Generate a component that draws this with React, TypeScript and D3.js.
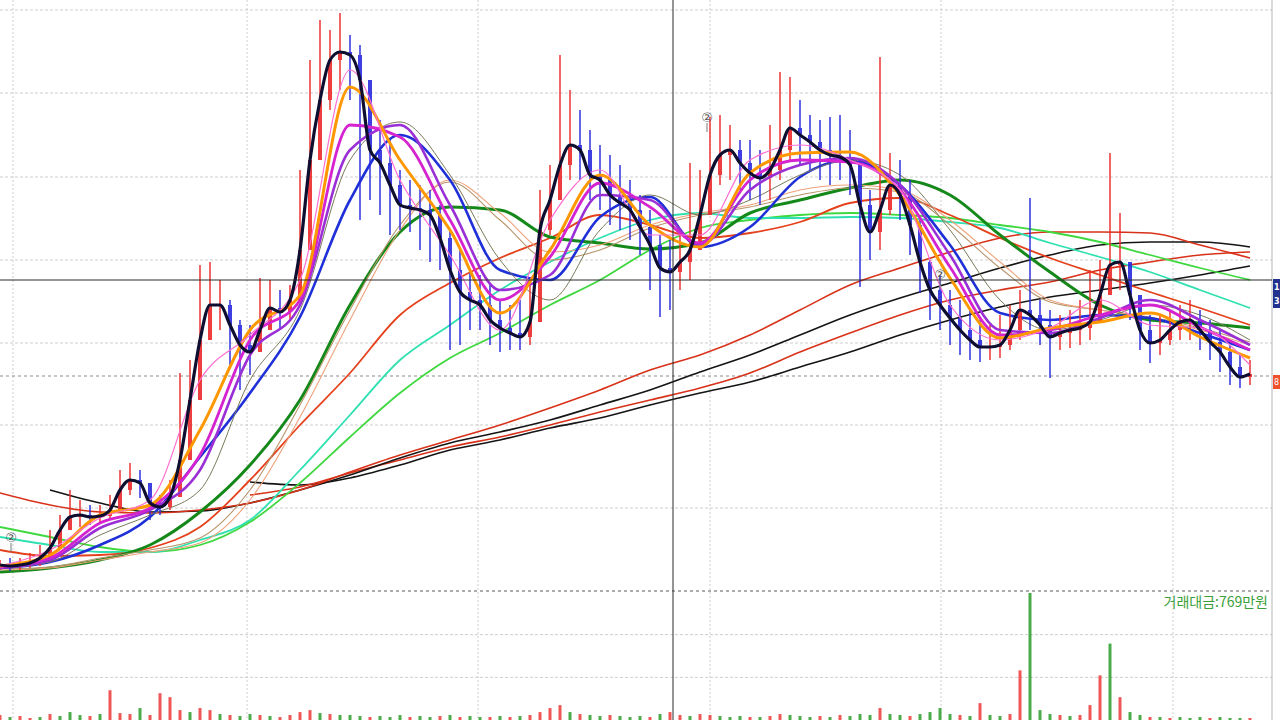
import React from 'react';
import * as d3 from 'd3';

// ---------- price candles (one per slot, price units) ----------
const closes = [
  35, 34, 35, 37, 42, 52, 70, 83, 85, 83,
  84, 90, 110, 120, 117, 97, 93, 103, 140, 200,
  260, 295, 295, 275, 255, 248, 270, 292, 288, 300,
  350, 440, 500, 540, 548, 545, 520, 450, 437, 415,
  395, 392, 390, 385, 362, 330, 308, 300, 295, 280,
  272, 267, 263, 278, 370, 400, 435, 455, 450, 425,
  420, 405, 397, 390, 373, 355, 332, 328, 338, 350,
  385, 425, 445, 450, 437, 427, 422, 430, 450, 472,
  465, 458, 450, 445, 443, 435, 395, 368, 390, 415,
  405, 375, 338, 310, 295, 282, 270, 260, 253, 253,
  255, 270, 290, 285, 275, 263, 267, 270, 272, 278,
  305, 335, 338, 305, 270, 257, 260, 270, 278, 280,
  270, 258, 248, 233, 223, 226,
];
const highs = [
  40, 42, 42, 47, 55, 70, 85, 110, 100, 95,
  95, 105, 130, 137, 130, 112, 105, 120, 227, 240,
  335, 338, 320, 300, 280, 275, 322, 320, 310, 315,
  430, 540, 580, 570, 587, 565, 555, 510, 480, 460,
  430, 420, 415, 410, 395, 370, 350, 330, 325, 315,
  300, 295, 300, 315, 410, 435, 545, 510, 490, 470,
  455, 445, 435, 420, 405, 390, 365, 360, 370, 437,
  430, 483, 485, 475, 460, 460, 450, 475, 528, 523,
  500, 485, 480, 483, 485, 470, 440, 410, 543, 447,
  440, 420, 380, 340, 325, 310, 300, 290, 280, 275,
  285, 295, 310, 402, 300, 290, 285, 290, 300, 330,
  340, 447, 387, 335, 300, 285, 285, 290, 295, 300,
  290, 280, 270, 255, 245, 240,
];
const lows = [
  30, 29, 30, 32, 34, 40, 55, 70, 73, 75,
  76, 80, 95, 105, 102, 80, 85, 90, 110, 160,
  230, 260, 270, 235, 210, 225, 250, 270, 270, 280,
  310, 400, 440, 490, 510, 500, 380, 400, 385, 365,
  370, 368, 350, 338, 330, 250, 255, 270, 270, 255,
  248, 250, 250, 255, 310, 365, 405, 420, 420, 400,
  390, 375, 370, 360, 345, 310, 283, 290, 310, 320,
  355, 390, 415, 420, 410, 400, 395, 400, 420, 440,
  435, 430, 420, 415, 420, 405, 313, 340, 350, 385,
  380, 345, 307, 280, 270, 255, 245, 240, 238, 240,
  242, 250, 260, 270, 255, 222, 250, 252, 255, 260,
  280, 310, 310, 280, 250, 237, 245, 255, 260, 260,
  250, 240, 228, 215, 212, 215,
];
const volumes = [
  5, 3, 4, 2, 3, 6, 4, 8, 5, 4,
  6, 30, 7, 6, 12, 5, 27, 23, 10, 8,
  12, 10, 6, 5, 4, 6, 5, 4, 3, 5,
  8, 10, 7, 6, 5, 5, 4, 3, 4, 3,
  5, 3, 4, 3, 4, 5, 3, 4, 3, 3,
  4, 3, 4, 5, 8, 12, 15, 8, 6, 5,
  4, 5, 4, 3, 4, 3, 6, 8, 5, 4,
  6, 5, 4, 3, 4, 3, 3, 4, 6, 5,
  4, 3, 4, 3, 5, 4, 6, 5, 12, 6,
  5, 4, 6, 8, 12, 6, 5, 4, 17, 5,
  4, 6, 50, 128, 10, 6, 5, 4, 5, 15,
  45, 77, 23, 8, 5, 3, 3, 2, 3, 2,
  3, 2, 3, 2, 2, 2,
];
const volumeSides =
  'rgrrgrgggr' + 'grrrgrrrrg' + 'rrgrggrgrr' + 'rrgrgggrgg' + 'grggrgrggr' +
  'grgrrrrgrg' + 'grgggrgrrg' + 'rrgggrgrrg' + 'ggrgrgggrg' + 'grggggrgrg' +
  'grrgggrgrr' + 'rgrggrgrgg' + 'grgggr';

// ---------- moving averages, sampled every 5 slots ----------
const maSlots = d3.range(0, 126, 5);
const maPink = [34, 50, 82, 100, 220, 265, 320, 530, 420, 345, 270, 380, 430, 365, 365, 440, 455, 440, 410, 295, 260, 272, 300, 275, 272, 235];
const maOrange = [34, 45, 85, 95, 170, 270, 305, 513, 440, 370, 287, 350, 425, 375, 353, 427, 447, 448, 405, 322, 262, 272, 278, 287, 263, 242];
const maMagenta = [33, 42, 77, 92, 145, 260, 300, 475, 463, 380, 300, 343, 417, 393, 357, 420, 440, 438, 410, 333, 265, 270, 285, 295, 273, 250];
const maPurple = [32, 40, 72, 90, 130, 245, 295, 450, 475, 395, 310, 325, 405, 400, 355, 410, 435, 442, 415, 345, 270, 267, 282, 300, 280, 255];
const maGray = [32, 38, 65, 85, 110, 220, 290, 440, 478, 425, 340, 300, 370, 405, 385, 400, 425, 440, 425, 370, 300, 270, 280, 295, 285, 260];
const maBlue = [32, 38, 55, 83, 143, 207, 283, 400, 465, 420, 330, 320, 383, 403, 353, 373, 423, 440, 415, 355, 287, 280, 285, 282, 267, 250];
const maTan1 = [30, 32, 40, 48, 57, 100, 183, 280, 370, 420, 387, 348, 355, 375, 387, 395, 410, 415, 410, 380, 338, 300, 290, 282, 270, 255];
const maTan2 = [31, 33, 42, 50, 62, 110, 195, 290, 375, 418, 380, 340, 350, 372, 385, 393, 405, 412, 408, 375, 332, 298, 290, 283, 272, 258];
const maDarkGreen = [28, 32, 40, 55, 88, 135, 200, 295, 368, 393, 390, 363, 357, 351, 357, 387, 400, 412, 420, 405, 365, 328, 295, 280, 277, 272];
const maRedMid = [50, 44, 45, 52, 73, 120, 175, 227, 285, 317, 342, 362, 385, 375, 362, 367, 378, 397, 402, 385, 362, 342, 325, 308, 292, 275];
const maTeal = [63, 55, 48, 48, 60, 80, 130, 185, 240, 275, 310, 338, 362, 380, 387, 382, 382, 383, 382, 378, 372, 357, 343, 328, 310, 292];
const maLightGreen = [73, 63, 53, 48, 55, 78, 117, 163, 207, 242, 267, 295, 320, 350, 372, 380, 385, 387, 385, 382, 375, 368, 358, 345, 332, 320];
const maLongRed1 = [107, 95, 88, 87, 90, 97, 110, 128, 145, 160, 175, 192, 210, 230, 245, 265, 290, 315, 332, 348, 362, 368, 368, 367, 355, 342];
const maLongBlack1 = [null, 110, 97, 88, 89, 97, 110, 125, 142, 157, 168, 180, 195, 210, 228, 245, 265, 285, 302, 317, 332, 345, 355, 358, 358, 353];
const maLongRed2 = [null, null, null, null, null, 105, 113, 127, 140, 153, 163, 175, 188, 200, 212, 227, 248, 267, 285, 300, 310, 318, 330, 338, 345, 348];
const maLongBlack2 = [null, null, null, null, null, 118, 115, 122, 135, 150, 160, 172, 182, 195, 207, 218, 233, 248, 265, 280, 293, 303, 310, 317, 325, 334];

// ---------- ticks / annotations ----------
const priceGridTicks = [92, 175, 257, 340, 423, 507, 590];
const timeGridTicks = [1.3, 24.7, 47.8, 71.0, 94.1, 117.3];
const volumeGridTicks = [43, 86];
const crossSlot = 67.3;
const crossPrice = 320;
const markers = [
  { slot: 1.1, price: 62 },
  { slot: 70.7, price: 482 },
  { slot: 94.0, price: 325 },
];
const volumeLabel = '거래대금:769만원';

const slowStyles = [
  { data: maLongBlack2, color: '#151515', w: 1.6 },
  { data: maLongRed2, color: '#d8321a', w: 1.6 },
  { data: maLongBlack1, color: '#151515', w: 1.6 },
  { data: maLongRed1, color: '#d8321a', w: 1.6 },
  { data: maLightGreen, color: '#3fd83f', w: 1.8 },
  { data: maTeal, color: '#2fe0b0', w: 1.8 },
  { data: maRedMid, color: '#e5411c', w: 1.8 },
  { data: maDarkGreen, color: '#15881a', w: 3 },
  { data: maTan2, color: '#b8946a', w: 1.1 },
  { data: maTan1, color: '#eea27a', w: 1.1 },
  { data: maBlue, color: '#1f30d8', w: 2.6 },
  { data: maGray, color: '#7a7a5c', w: 1 },
];
const fastStyles = [
  { data: maPurple, color: '#9b2fd6', w: 2.6 },
  { data: maMagenta, color: '#d523d0', w: 2.8 },
  { data: maOrange, color: '#ff9800', w: 3 },
  { data: maPink, color: '#ff6fd2', w: 1.2 },
];

export default function App() {
  const x = d3.scaleLinear().domain([0, 125]).range([0, 1250]);
  const y = d3.scaleLinear().domain([0, 600]).range([600, 0]);
  const vy = d3.scaleLinear().domain([0, 130]).range([720, 591]);

  const line = d3
    .line<[number, number | null]>()
    .defined((d) => d[1] != null)
    .x((d) => x(d[0]))
    .y((d) => y(d[1] as number))
    .curve(d3.curveMonotoneX);

  const maPath = (vals: (number | null)[]) =>
    line(vals.map((v, j) => [maSlots[j], v] as [number, number | null])) || '';
  const pricePath = line(closes.map((c, i) => [i, c] as [number, number])) || '';

  const lastClose = closes[closes.length - 1];
  const gridColor = '#cdcdcd';

  return (
    <div style={{ position: 'fixed', left: 0, top: 0, width: 1280, height: 720, background: '#fff' }}>
      <svg width={1280} height={720} style={{ display: 'block' }}>
        <rect x={0} y={0} width={1280} height={720} fill="#fff" />
        {/* grid */}
        {timeGridTicks.map((t, i) => (
          <line key={'vg' + i} x1={x(t)} x2={x(t)} y1={0} y2={720} stroke={gridColor} strokeDasharray="2,2" />
        ))}
        {priceGridTicks.map((p, i) => (
          <line key={'hg' + i} x1={0} x2={1272} y1={y(p)} y2={y(p)} stroke={gridColor} strokeDasharray="3,2" />
        ))}
        {volumeGridTicks.map((v, i) => (
          <line key={'vgl' + i} x1={0} x2={1272} y1={vy(v)} y2={vy(v)} stroke={gridColor} strokeDasharray="3,2" />
        ))}
        <line x1={0} x2={1272} y1={y(lastClose) + 2} y2={y(lastClose) + 2} stroke="#8a8a8a" strokeDasharray="3,3" />
        <line x1={0} x2={1272} y1={591} y2={591} stroke="#5a5a5a" strokeDasharray="3,3" />
        <line x1={1272} x2={1272} y1={0} y2={720} stroke="#b5b5b5" />

        {/* slow moving averages */}
        {slowStyles.map((s, i) => (
          <path key={'s' + i} d={maPath(s.data)} fill="none" stroke={s.color} strokeWidth={s.w} />
        ))}

        {/* candles */}
        {closes.map((c, i) => {
          const o = i === 0 ? c : closes[i - 1];
          const up = c >= o;
          const col = up ? '#ec2b2b' : '#2a2ade';
          const hi = Math.max(highs[i], o, c);
          const lo = Math.min(lows[i], o, c);
          return (
            <g key={'c' + i} opacity={0.9}>
              <line x1={x(i)} x2={x(i)} y1={y(hi)} y2={y(lo)} stroke={col} strokeWidth={1.6} />
              <rect
                x={x(i) - 2}
                width={4}
                y={y(Math.max(o, c))}
                height={Math.max(1, Math.abs(y(o) - y(c)))}
                fill={col}
              />
            </g>
          );
        })}

        {/* fast moving averages */}
        {fastStyles.map((s, i) => (
          <path key={'f' + i} d={maPath(s.data)} fill="none" stroke={s.color} strokeWidth={s.w} />
        ))}
        <path d={pricePath} fill="none" stroke="#0e0e30" strokeWidth={3.2} />

        {/* crosshair */}
        <line x1={0} x2={1272} y1={y(crossPrice)} y2={y(crossPrice)} stroke="#2a2a2a" strokeWidth={1} />
        <line x1={x(crossSlot)} x2={x(crossSlot)} y1={0} y2={720} stroke="#2a2a2a" strokeWidth={1} />

        {/* markers */}
        {markers.map((m, i) => (
          <g key={'m' + i}>
            <line x1={x(m.slot)} x2={x(m.slot)} y1={y(m.price) + 5} y2={y(m.price) + 14} stroke="#777" />
            <text
              x={x(m.slot)}
              y={y(m.price) + 4}
              textAnchor="middle"
              fontSize={13}
              fill="#555"
              fontFamily="DejaVu Sans"
            >
              ②
            </text>
          </g>
        ))}

        {/* right tags */}
        <rect x={1273} y={y(crossPrice) - 1} width={7} height={29} fill="#23318f" />
        <text x={1274} y={y(crossPrice) + 10} fontSize={8} fill="#fff" fontFamily="DejaVu Sans" fontWeight="bold">1</text>
        <text x={1274} y={y(crossPrice) + 24} fontSize={8} fill="#fff" fontFamily="DejaVu Sans" fontWeight="bold">3</text>
        <rect x={1273} y={y(lastClose) + 1} width={7} height={14} fill="#f0502e" />
        <text x={1274} y={y(lastClose) + 11} fontSize={8} fill="#fff" fontFamily="DejaVu Sans">8</text>

        {/* volume */}
        {volumes.map((v, i) => (
          <rect
            key={'v' + i}
            x={x(i) - 1.5}
            width={3}
            y={vy(v)}
            height={720 - vy(v)}
            fill={volumeSides[i] === 'r' ? '#ec3a3a' : '#2c9c2c'}
            opacity={0.85}
          />
        ))}
        <text
          x={1268}
          y={607}
          textAnchor="end"
          fontSize={14}
          fill="#3aa03a"
          fontFamily="'Noto Sans CJK KR', sans-serif"
        >
          {volumeLabel}
        </text>
      </svg>
    </div>
  );
}
